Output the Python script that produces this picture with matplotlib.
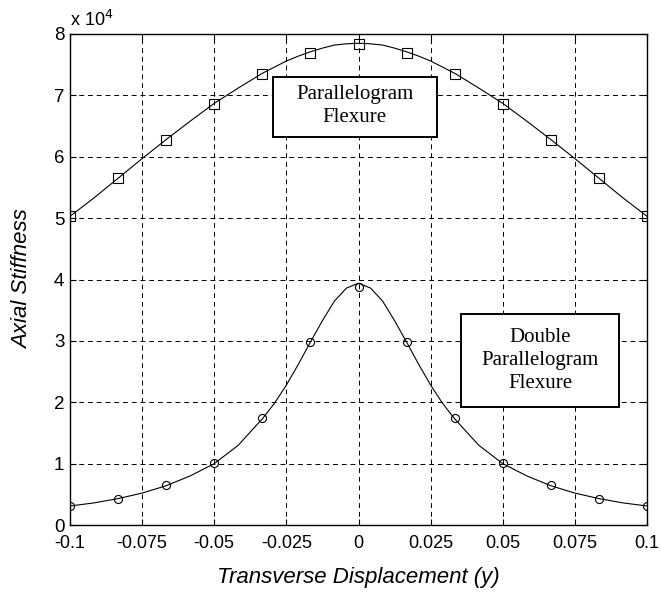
import matplotlib
matplotlib.use("Agg")
import matplotlib.pyplot as plt
from matplotlib.patches import Rectangle

# Marker data (units of 1e4)
x_mark = [-0.1, -0.08333, -0.06667, -0.05, -0.03333, -0.01667, 0.0,
          0.01667, 0.03333, 0.05, 0.06667, 0.08333, 0.1]
para_mark = [5.03, 5.65, 6.27, 6.86, 7.35, 7.69, 7.84,
             7.69, 7.35, 6.86, 6.27, 5.65, 5.03]
dbl_mark = [0.31, 0.43, 0.65, 1.01, 1.74, 2.98, 3.88,
            2.98, 1.74, 1.01, 0.65, 0.43, 0.31]

# Curve data (units of 1e4)
x_line = [-0.1, -0.09167, -0.08333, -0.075, -0.06667, -0.05833, -0.05,
          -0.04167, -0.03333, -0.02917, -0.025, -0.02083, -0.01667, -0.0125,
          -0.00833, -0.00417, 0.0,
          0.00417, 0.00833, 0.0125, 0.01667, 0.02083, 0.025, 0.02917,
          0.03333, 0.04167, 0.05,
          0.05833, 0.06667, 0.075, 0.08333, 0.09167, 0.1]
para_line = [5.03, 5.33, 5.65, 5.97, 6.28, 6.58, 6.87,
             7.12, 7.36, 7.46, 7.56, 7.64, 7.71, 7.77,
             7.82, 7.84, 7.85,
             7.84, 7.82, 7.77, 7.71, 7.64, 7.56, 7.46,
             7.36, 7.12, 6.87,
             6.58, 6.28, 5.97, 5.65, 5.33, 5.03]
dbl_line = [0.31, 0.36, 0.43, 0.52, 0.64, 0.80, 1.00,
            1.30, 1.73, 1.98, 2.28, 2.62, 2.98, 3.33,
            3.65, 3.86, 3.94,
            3.86, 3.65, 3.33, 2.98, 2.62, 2.28, 1.98,
            1.73, 1.30, 1.00,
            0.80, 0.64, 0.52, 0.43, 0.36, 0.31]

x_ticks = [-0.1, -0.075, -0.05, -0.025, 0, 0.025, 0.05, 0.075, 0.1]
x_ticklabels = ["-0.1", "-0.075", "-0.05", "-0.025", "0", "0.025", "0.05", "0.075", "0.1"]
y_ticks = [0, 1, 2, 3, 4, 5, 6, 7, 8]
y_ticklabels = ["0", "1", "2", "3", "4", "5", "6", "7", "8"]

plt.rcParams['font.family'] = ['Liberation Sans', 'DejaVu Sans']

fig = plt.figure(figsize=(6.61, 5.92), dpi=100)
ax = fig.add_axes([70/661, (592-525)/592, (647-70)/661, (525-34)/592])

ax.plot(x_line, para_line, color='black', lw=0.8)
ax.plot(x_line, dbl_line, color='black', lw=0.8)
ax.plot(x_mark, para_mark, linestyle='none', marker='s', ms=7.5, mfc='none', mec='black', mew=0.8)
ax.plot(x_mark, dbl_mark, linestyle='none', marker='o', ms=5.8, mfc='none', mec='black', mew=0.8)

ax.set_xlim(-0.1, 0.1)
ax.set_ylim(0, 8)
ax.set_xticks(x_ticks)
ax.set_xticklabels(x_ticklabels)
ax.set_yticks(y_ticks)
ax.set_yticklabels(y_ticklabels)
ax.tick_params(direction='in', top=True, right=True, labelsize=13, length=4, width=0.8)
ax.tick_params(axis='x', pad=7)
ax.tick_params(axis='y', labelsize=13.5, pad=4)
ax.grid(True, color='black', linestyle=(0, (5, 4)), linewidth=0.7)
for s in ax.spines.values():
    s.set_linewidth(1.0)

ax.set_xlabel('Transverse Displacement (y)', fontsize=16, fontstyle='italic', labelpad=11)
ax.set_ylabel('Axial Stiffness', fontsize=16, fontstyle='italic', labelpad=15)

ax.text(0.0, 1.008, r'x 10$^{4}$', transform=ax.transAxes, fontsize=13, ha='left', va='bottom')

# Annotation boxes
ax.add_patch(Rectangle((-0.0297, 6.32), 0.0569, 0.98, facecolor='white',
                       edgecolor='black', linewidth=1.4, zorder=4))
ax.add_patch(Rectangle((0.0355, 1.92), 0.0548, 1.52, facecolor='white',
                       edgecolor='black', linewidth=1.4, zorder=4))
ax.text(-0.00125, 6.83, 'Parallelogram\nFlexure', fontsize=15, family=['Liberation Serif'],
        ha='center', va='center', linespacing=1.3, zorder=5)
ax.text(0.0629, 2.68, 'Double\nParallelogram\nFlexure', fontsize=15, family=['Liberation Serif'],
        ha='center', va='center', linespacing=1.3, zorder=5)

fig.savefig('out.png', dpi=100)
